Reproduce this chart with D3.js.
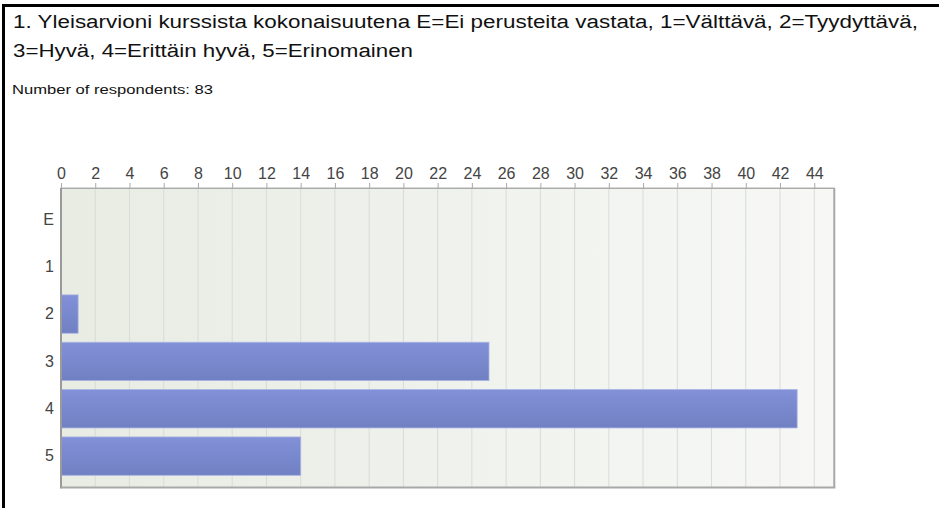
<!DOCTYPE html>
<html><head><meta charset="utf-8">
<script src="https://cdn.jsdelivr.net/npm/d3@7"></script>
<style>
html,body{margin:0;padding:0;background:#fff;}
svg{display:block;font-family:"Liberation Sans",Arial,sans-serif;}
</style></head>
<body>
<svg id="chart" width="939" height="508"></svg>
<script>
const titleLines = ["1. Yleisarvioni kurssista kokonaisuutena E=Ei perusteita vastata, 1=Välttävä, 2=Tyydyttävä,", "3=Hyvä, 4=Erittäin hyvä, 5=Erinomainen"];
const subtitle = "Number of respondents: 83";
const categories = ["E", "1", "2", "3", "4", "5"];
const values = [0, 0, 1, 25, 43, 14];
const tickValues = [0,2,4,6,8,10,12,14,16,18,20,22,24,26,28,30,32,34,36,38,40,42,44];

(function(){
const svg = d3.select("#chart");
const defs = svg.append("defs");
const bg = defs.append("linearGradient").attr("id","bg").attr("x1","0").attr("x2","1").attr("y1","0").attr("y2","0");
bg.append("stop").attr("offset","0").attr("stop-color","#e8ece3");
bg.append("stop").attr("offset","1").attr("stop-color","#f7f8f6");
const bar = defs.append("linearGradient").attr("id","bar").attr("x1","0").attr("x2","0").attr("y1","0").attr("y2","1");
bar.append("stop").attr("offset","0").attr("stop-color","#8291d8");
bar.append("stop").attr("offset","1").attr("stop-color","#7080c2");

// frame
svg.append("rect").attr("x",2).attr("y",4).attr("width",939).attr("height",3).attr("fill","#000");
svg.append("rect").attr("x",2).attr("y",4).attr("width",3).attr("height",510).attr("fill","#000");

// titles
const txt = (s, xx, yy, fs, len) => svg.append("text").attr("x",xx).attr("y",yy).attr("font-size",fs)
  .attr("fill","#111").attr("textLength",len).attr("lengthAdjust","spacingAndGlyphs").text(s);
txt(titleLines[0], 13, 28, 18, 905);
txt(titleLines[1], 13, 57, 18, 400);
txt(subtitle, 12, 94, 12, 201);

const pLeft = 61, pTop = 188, pBottom = 487.5;
const x = d3.scaleLinear().domain([0, 45.17]).range([pLeft, 834.3]);
const y = d3.scaleBand().domain(categories).range([pTop + 7.7, pBottom - 7.7]).paddingInner(0.19).paddingOuter(0.095);
const pRight = x.range()[1];

svg.append("rect").attr("x",pLeft).attr("y",pTop).attr("width",pRight-pLeft).attr("height",pBottom-pTop).attr("fill","url(#bg)");

// gridlines
svg.append("g").selectAll("line").data(tickValues.filter(d=>d>0)).join("line")
  .attr("x1",d=>x(d)).attr("x2",d=>x(d)).attr("y1",pTop).attr("y2",pBottom)
  .attr("stroke","#d9dbd9").attr("stroke-width",1);

// bars
svg.append("g").selectAll("rect").data(categories.map((c,i)=>({c,v:values[i]})).filter(d=>d.v>0)).join("rect")
  .attr("x",pLeft).attr("y",d=>y(d.c)).attr("width",d=>x(d.v)-pLeft).attr("height",y.bandwidth())
  .attr("fill","url(#bar)").attr("stroke","#a9b3e4").attr("stroke-width",0.8);

// plot border
svg.append("rect").attr("x",pLeft).attr("y",pTop).attr("width",pRight-pLeft).attr("height",pBottom-pTop)
  .attr("fill","none").attr("stroke","#b4b4b4").attr("stroke-width",1);
svg.append("line").attr("x1",pLeft).attr("x2",pLeft).attr("y1",pTop).attr("y2",pBottom+1).attr("stroke","#9a9a9a").attr("stroke-width",2);
svg.append("line").attr("x1",pLeft).attr("x2",pRight+1).attr("y1",pBottom).attr("y2",pBottom).attr("stroke","#a8a8a8").attr("stroke-width",2);
svg.append("line").attr("x1",pRight).attr("x2",pRight).attr("y1",pTop).attr("y2",pBottom).attr("stroke","#a8a8a8").attr("stroke-width",2);

// x axis on top
const xAxis = d3.axisTop(x).tickValues(tickValues).tickSize(5).tickPadding(4).tickSizeOuter(0);
const gx = svg.append("g").attr("transform",`translate(0,${pTop})`).call(xAxis);
gx.select(".domain").attr("stroke","#aaa");
gx.selectAll(".tick line").attr("stroke","#aaa");
gx.selectAll(".tick text").attr("font-size",16).attr("fill","#444").attr("font-family","Liberation Sans, Arial, sans-serif");

// y axis
const yAxis = d3.axisLeft(y).tickSize(0).tickPadding(7);
const gy = svg.append("g").attr("transform",`translate(${pLeft},0)`).call(yAxis);
gy.select(".domain").remove();
gy.selectAll(".tick text").attr("font-size",16).attr("fill","#444").attr("font-family","Liberation Sans, Arial, sans-serif");
})();
</script>
</body></html>
